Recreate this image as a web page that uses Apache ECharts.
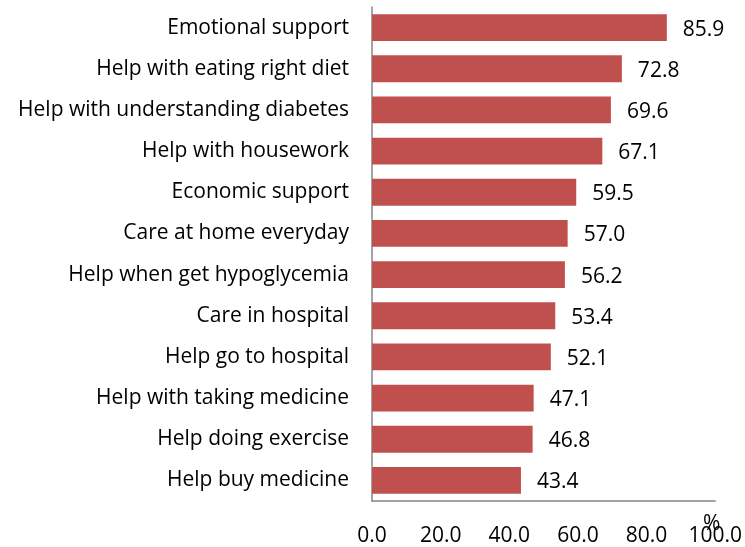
<!DOCTYPE html>
<html>
<head>
<meta charset="utf-8">
<script src="https://cdn.jsdelivr.net/npm/echarts@6/dist/echarts.min.js"></script>
<style>
  html, body { margin: 0; padding: 0; background: #fff; }
  #chart { width: 745px; height: 547px; }
</style>
</head>
<body>
<div id="chart"></div>
<script>
// 항목명 (위에서 아래 순)
const categories = [
  'Emotional support',
  'Help with eating right diet',
  'Help with understanding diabetes',
  'Help with housework',
  'Economic support',
  'Care at home everyday',
  'Help when get hypoglycemia',
  'Care in hospital',
  'Help go to hospital',
  'Help with taking medicine',
  'Help doing exercise',
  'Help buy medicine'
]
const values = [85.9, 72.8, 69.6, 67.1, 59.5, 57.0, 56.2, 53.4, 52.1, 47.1, 46.8, 43.4]
const xTicks = [0, 20, 40, 60, 80, 100]

const font = 'Open Sans'
const chart = echarts.init(document.getElementById('chart'))

chart.setOption({
  animation: false,
  grid: { left: 372, right: 29, top: 7, bottom: 44, containLabel: false },
  xAxis: {
    type: 'value',
    min: xTicks[0],
    max: xTicks[xTicks.length - 1],
    interval: 20,
    axisLine: { show: true, lineStyle: { color: '#868686', width: 1.5 } },
    axisTick: { show: false },
    splitLine: { show: false },
    axisLabel: {
      margin: 25,
      color: '#000',
      fontFamily: font,
      fontSize: 21,
      formatter: v => v.toFixed(1)
    }
  },
  yAxis: {
    type: 'category',
    inverse: true,
    data: categories,
    axisLine: { show: true, lineStyle: { color: '#868686', width: 1.5 } },
    axisTick: { show: false },
    axisLabel: { margin: 23, color: '#000', fontFamily: font, fontSize: 21 }
  },
  graphic: [
    {
      type: 'text',
      left: 703,
      top: 514,
      style: { text: '%', fill: '#000', font: '21px ' + font }
    }
  ],
  series: [
    {
      type: 'bar',
      data: values,
      barWidth: '65%',
      itemStyle: { color: '#C0504D' },
      label: {
        show: true,
        position: 'right',
        distance: 16,
        offset: [0, 2],
        color: '#000',
        fontFamily: font,
        fontSize: 21,
        formatter: p => p.value.toFixed(1)
      }
    }
  ]
})
</script>
</body>
</html>
